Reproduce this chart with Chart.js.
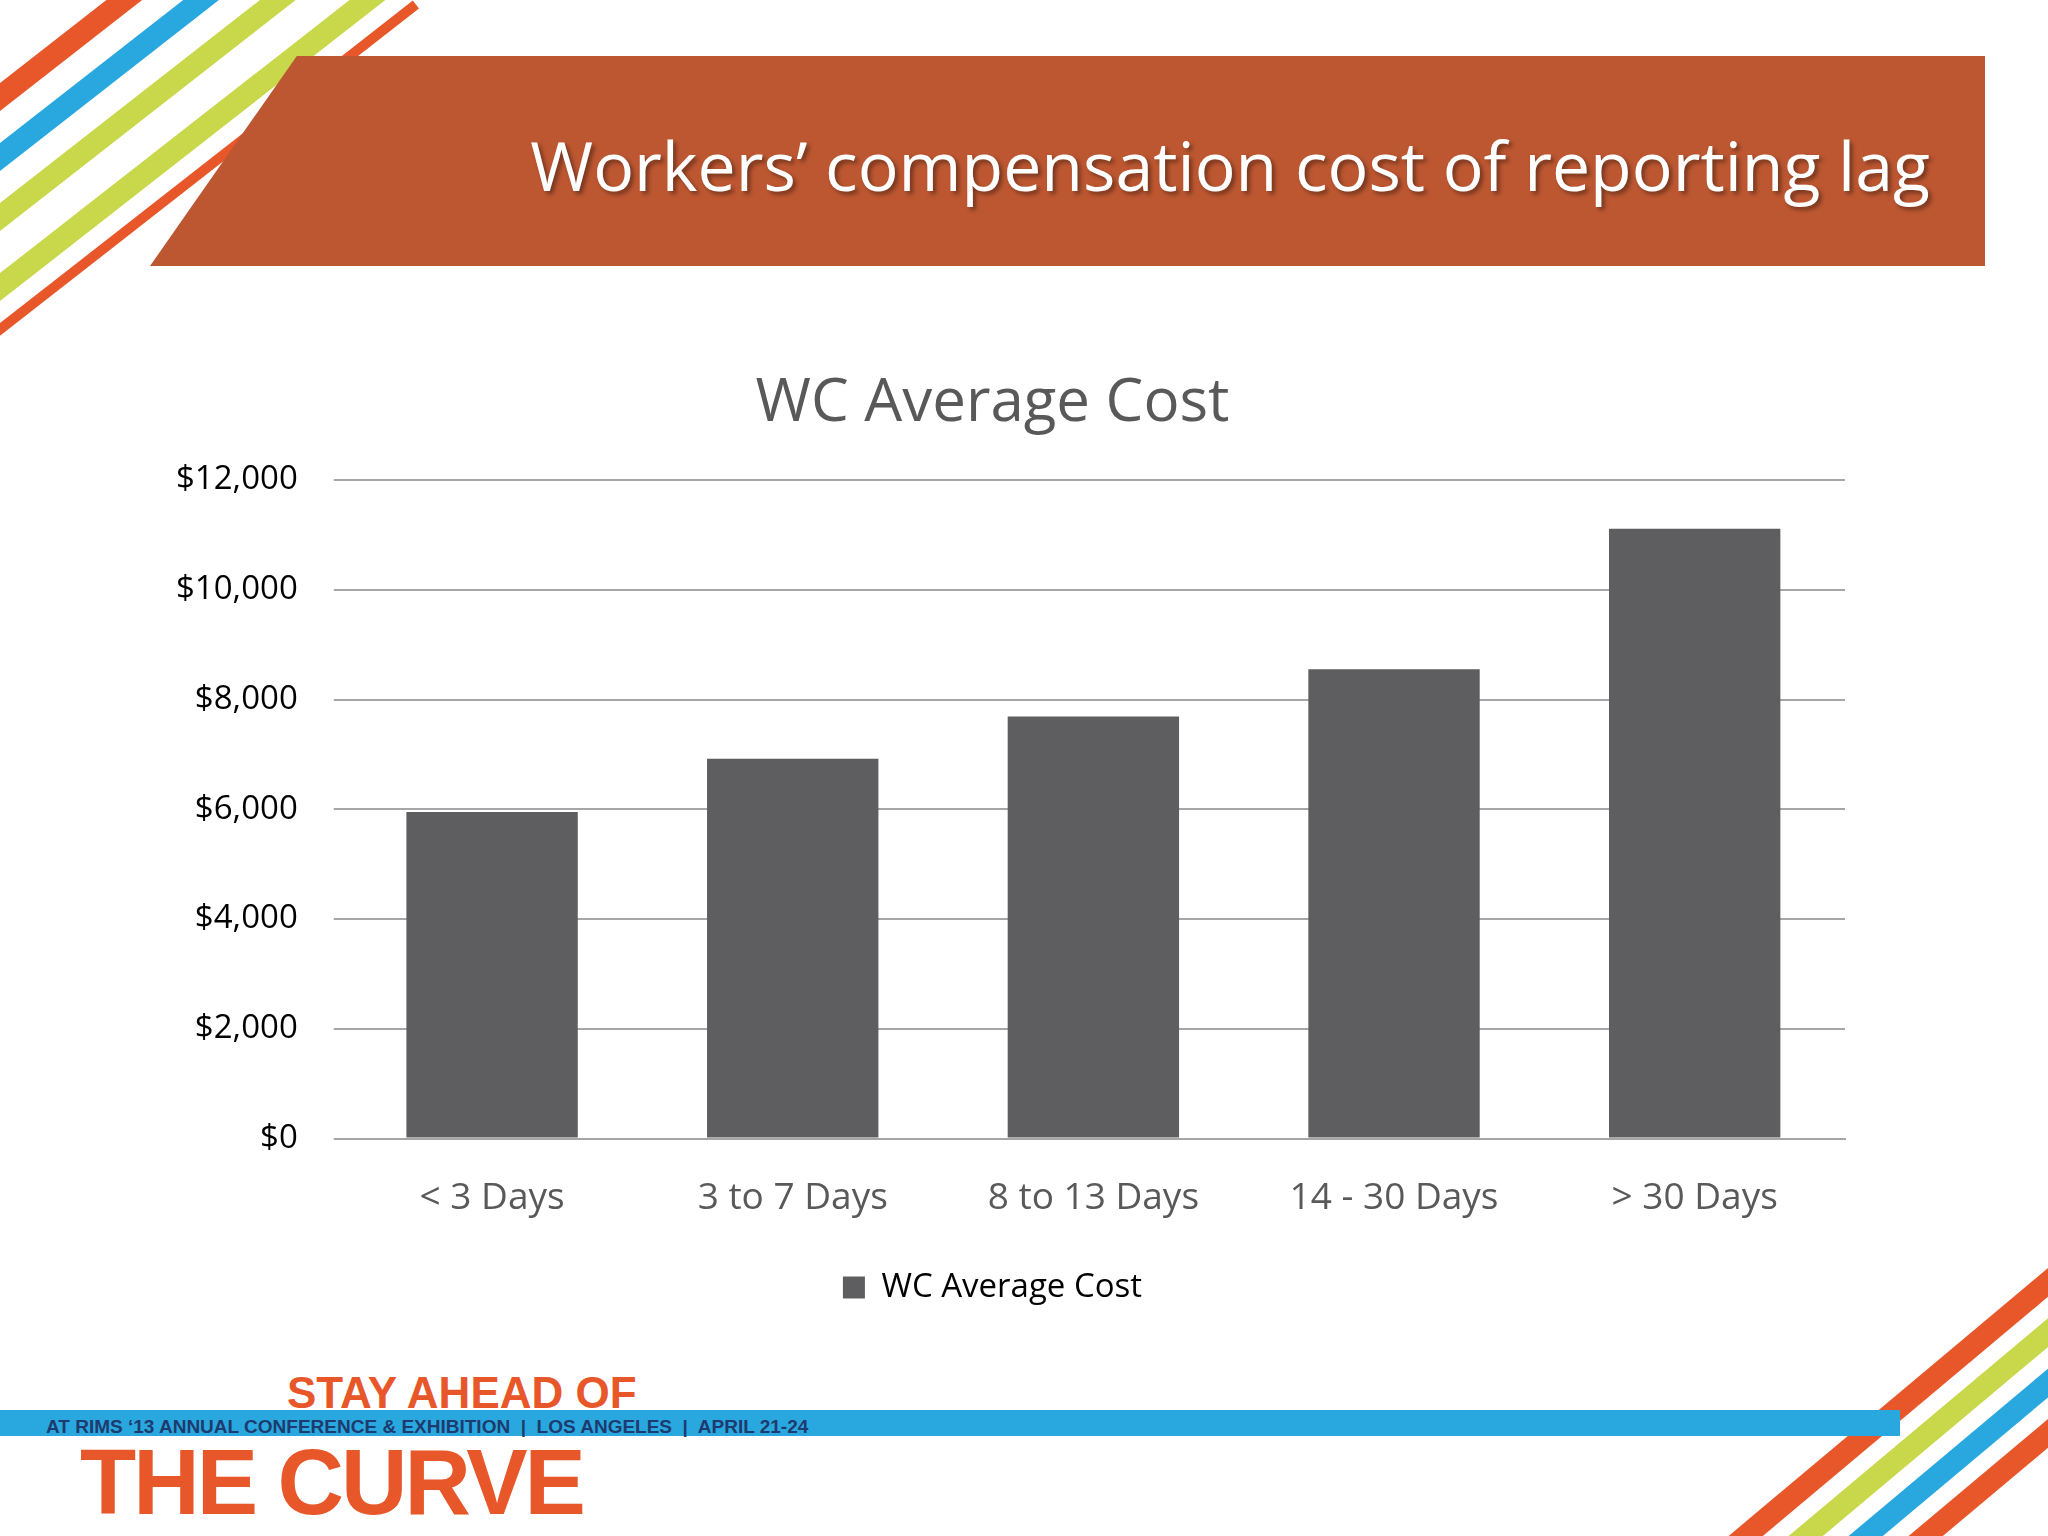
<!DOCTYPE html>
<html>
<head>
<meta charset="utf-8">
<script src="https://cdn.jsdelivr.net/npm/chart.js@4"></script>
<style>
  body { margin:0; width:2048px; height:1536px; overflow:hidden; background:#fff; position:relative; font-family:Calibri,"Carlito","Open Sans",sans-serif; }
  .stripe { position:absolute; height:22px; transform-origin:0 0; }
  #banner { position:absolute; left:150px; top:56px; width:1835px; height:210px; background:#bd5731;
            clip-path:polygon(8% 0,100% 0,100% 100%,0 100%); }
  #title { position:absolute; right:118px; top:118px; color:#fff; font-size:68px; text-shadow:3px 3px 4px rgba(0,0,0,.4); font-family:"Open Sans",sans-serif; }
  #chartBox { position:absolute; left:0; top:360px; width:2048px; height:960px; }
  #band { position:absolute; left:0; top:1410px; width:1900px; height:26px; background:#29a8e0; }
  .foot { position:absolute; color:#e8572a; font-family:"Liberation Sans",Arial,sans-serif; font-weight:bold; }
</style>
</head>
<body>
<div class="stripe" style="left:-60px;top:130px;width:600px;background:#e8572a;transform:rotate(-38deg)"></div>
<div class="stripe" style="left:-60px;top:190px;width:600px;background:#29a8e0;transform:rotate(-38deg)"></div>
<div class="stripe" style="left:-60px;top:250px;width:600px;background:#c8d84a;transform:rotate(-38deg)"></div>
<div class="stripe" style="left:-60px;top:320px;width:600px;background:#c8d84a;transform:rotate(-38deg)"></div>
<div class="stripe" style="left:-60px;top:370px;width:600px;background:#e8572a;transform:rotate(-38deg);height:10px"></div>
<div class="stripe" style="left:1700px;top:1560px;width:600px;background:#e8572a;transform:rotate(-40deg)"></div>
<div class="stripe" style="left:1760px;top:1560px;width:600px;background:#c8d84a;transform:rotate(-40deg)"></div>
<div class="stripe" style="left:1820px;top:1560px;width:600px;background:#29a8e0;transform:rotate(-40deg)"></div>
<div class="stripe" style="left:1880px;top:1560px;width:600px;background:#e8572a;transform:rotate(-40deg)"></div>
<div id="banner"></div>
<div id="title">Workers’ compensation cost of reporting lag</div>
<div id="chartBox"><canvas id="chart"></canvas></div>
<div id="band"></div>
<div class="foot" style="left:287px;top:1368px;font-size:44px;">STAY AHEAD OF</div>
<div class="foot" style="left:46px;top:1416px;font-size:19px;color:#1d3b6e;">AT RIMS ‘13 ANNUAL CONFERENCE &amp; EXHIBITION &nbsp;|&nbsp; LOS ANGELES &nbsp;|&nbsp; APRIL 21-24</div>
<div class="foot" style="left:80px;top:1430px;font-size:92px;letter-spacing:-3px;">THE CURVE</div>
<script>
// chart data
const categories = ["< 3 Days", "3 to 7 Days", "8 to 13 Days", "14 - 30 Days", "> 30 Days"];
const avgCost = [5950, 6920, 7690, 8550, 11110];
const seriesLabel = "WC Average Cost";

const ctx = document.getElementById('chart').getContext('2d');
new Chart(ctx, {
    type: 'bar',
    data: {
        labels: categories,
        datasets: [{
            label: seriesLabel,
            data: avgCost,
            backgroundColor: '#5e5e60',
            categoryPercentage: 1,
            barPercentage: 0.57
        }]
    },
    options: {
        responsive: true,
        maintainAspectRatio: false,
        animation: false,
        layout: { padding: { left: 140, right: 203, top: 8, bottom: 6 } },
        plugins: {
            title: { display: true, text: 'WC Average Cost', color: '#595959', font: { size: 60, family: 'Open Sans', weight: 'normal' }, padding: { top: 0, bottom: 40 } },
            legend: {
                position: 'bottom',
                labels: { color: '#000', font: { size: 33, family: 'Open Sans' }, boxWidth: 22, boxHeight: 22, padding: 20 }
            }
        },
        scales: {
            x: {
                grid: { display: false },
                border: { color: '#a6a6a6', width: 2 },
                ticks: { color: '#595959', font: { size: 37, family: 'Open Sans' }, padding: 30 }
            },
            y: {
                min: 0, max: 12000,
                ticks: { stepSize: 2000, color: '#000', padding: 36, font: { size: 33, family: 'Open Sans' },
                         callback: v => '$' + v.toLocaleString('en-US') },
                grid: { color: '#a6a6a6', lineWidth: 2 },
                border: { display: false }
            }
        }
    }
});
</script>
</body>
</html>
